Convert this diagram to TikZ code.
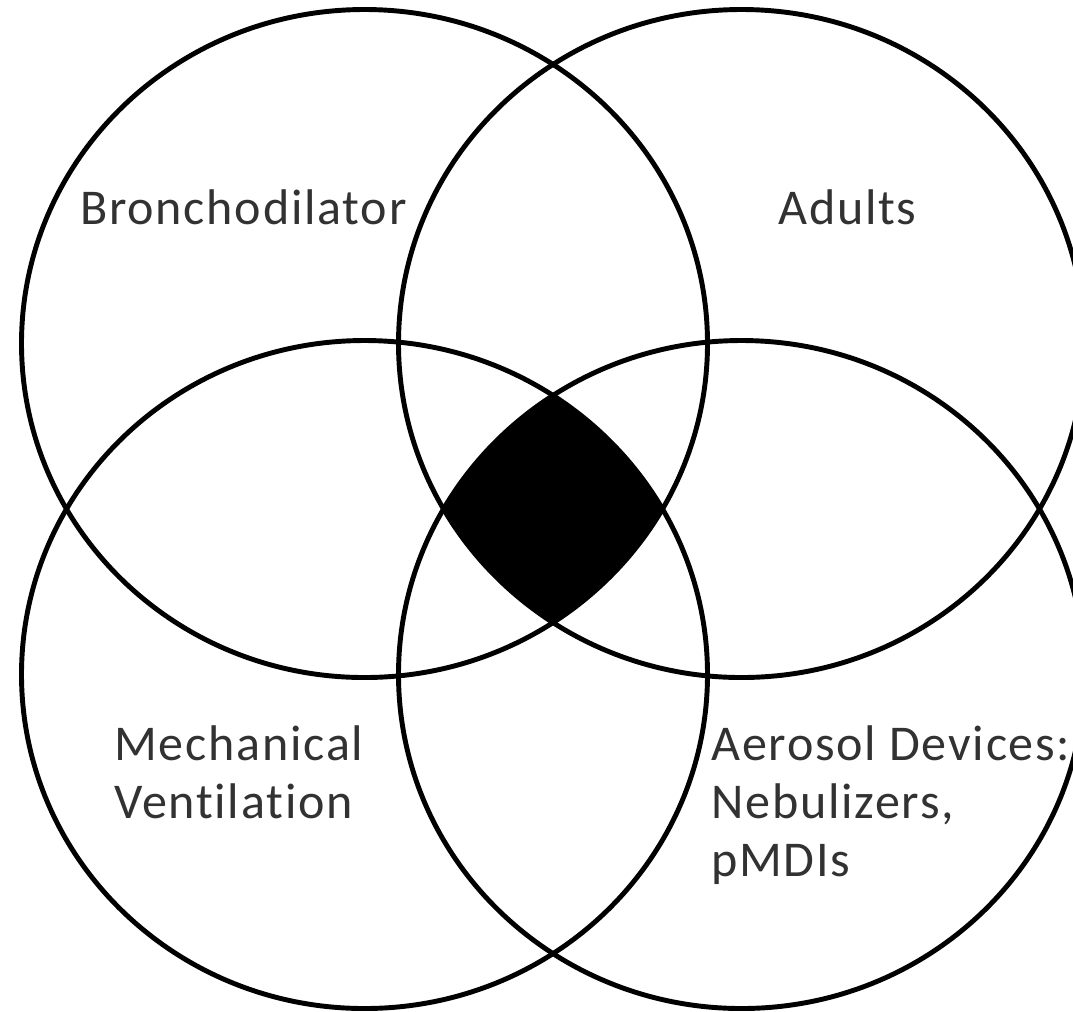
\documentclass[tikz,border=0pt]{standalone}
\usepackage{fontspec}
\setmainfont{Carlito}[LetterSpace=3.5,Ligatures=NoCommon]
\definecolor{labelgray}{RGB}{50,50,50}
\tikzset{
	setlabel/.style={anchor=north west,inner sep=0pt,align=left,text=labelgray,
		font=\fontsize{28.5}{33}\selectfont},
	setring/.style={line width=2.8pt}
}
\begin{document}
\begin{tikzpicture}
\clip (0,0) rectangle (21.46,-20.22);
\useasboundingbox (0,0) rectangle (21.46,-20.22);
\coordinate (bron) at (7.29,-6.87);
\coordinate (adul) at (14.83,-6.87);
\coordinate (mech) at (7.29,-13.49);
\coordinate (aero) at (14.83,-13.49);
% shared region of all four sets
\begin{scope}
	\clip (bron) ellipse [x radius=6.86cm,y radius=6.68cm];
	\clip (adul) ellipse [x radius=6.86cm,y radius=6.68cm];
	\clip (mech) ellipse [x radius=6.86cm,y radius=6.68cm];
	\fill (aero) ellipse [x radius=6.86cm,y radius=6.68cm];
\end{scope}
\foreach \c in {bron,adul,mech,aero}
	\draw[setring] (\c) ellipse [x radius=6.86cm,y radius=6.68cm];
\node[setlabel] (bronlabel) at (1.6,-3.78) {Bronchodilator};
\node[setlabel] (adullabel) at (15.56,-3.78) {Adults};
\node[setlabel] (mechlabel) at (2.28,-14.5) {Mechanical\\Ventilation};
\node[setlabel] (aerolabel) at (14.22,-14.5) {Aerosol Devices:\\Nebulizers,\\pMDIs};
\end{tikzpicture}
\end{document}
